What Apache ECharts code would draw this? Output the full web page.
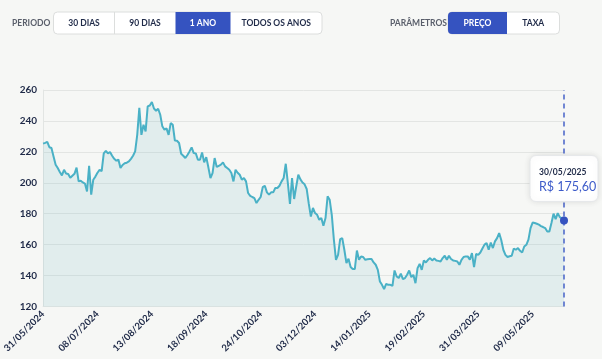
<!DOCTYPE html>
<html>
<head>
<meta charset="utf-8">
<script src="https://cdn.jsdelivr.net/npm/echarts@6/dist/echarts.min.js"></script>
<style>
html,body{margin:0;padding:0;background:#f6f7f5;}
#c{width:602px;height:359px;}
</style>
</head>
<body>
<div id="c"></div>
<script>
// Trading calendar (B3 holidays removed)
const startDate = '2024-05-31';
const endDate = '2025-05-30';
const holidays = ['2024-11-15','2024-11-20','2024-12-24','2024-12-25','2024-12-31','2025-01-01','2025-03-03','2025-03-04','2025-04-18','2025-04-21','2025-05-01'];

// Price series (R$), one value per trading day
const prices = [
225.3,225.8,226.4,223.0,222.5,217.0,211.7,209.5,207.0,204.8,
208.4,206.0,205.7,203.2,204.5,205.8,209.8,200.9,201.3,200.2,
199.5,194.4,211.0,192.3,202.0,204.0,206.5,208.4,207.5,219.0,
220.7,219.0,219.9,217.5,215.5,214.3,215.0,209.6,211.5,212.6,
213.0,213.8,215.5,217.5,220.3,231.0,248.4,231.0,237.5,233.2,
249.4,250.0,252.2,248.0,246.6,247.9,244.0,236.5,234.3,235.2,
231.0,238.6,237.5,227.3,227.2,225.7,218.8,217.5,216.0,218.0,
220.3,222.9,219.2,219.0,214.9,214.9,219.6,213.2,216.6,210.0,
203.1,206.3,216.0,210.2,211.0,211.7,213.2,210.6,209.5,208.4,
206.3,200.9,208.4,206.5,205.2,202.0,203.1,200.9,193.4,191.6,
190.8,190.1,186.9,189.0,190.8,197.2,198.1,193.8,192.3,193.8,
193.8,196.6,196.6,198.1,200.9,203.1,212.3,199.8,186.4,203.1,
189.5,197.6,205.2,202.2,200.2,199.0,196.0,186.5,178.2,183.7,
180.4,179.3,176.1,177.2,172.2,177.2,191.2,189.0,179.3,163.2,
150.2,153.4,163.6,164.2,156.7,148.1,150.9,145.5,144.2,144.2,
156.2,150.2,152.3,152.0,150.2,150.5,150.7,150.7,148.5,147.0,
143.7,136.2,134.0,131.3,134.7,134.0,134.0,133.4,143.3,139.4,
138.4,141.2,137.7,138.4,140.5,143.3,139.0,140.5,135.1,144.8,
147.6,143.7,149.8,148.5,150.2,151.3,149.8,151.0,149.8,149.5,
149.1,151.3,152.8,150.2,152.8,150.7,149.8,149.5,149.1,147.0,
150.2,152.0,152.4,152.4,150.2,154.5,145.5,154.0,153.4,154.9,
157.5,160.0,161.0,156.7,161.4,157.8,162.1,164.2,167.5,163.0,
156.7,153.4,152.0,152.5,152.8,157.5,156.7,157.8,156.0,154.9,
158.8,159.9,163.2,170.7,174.3,174.0,173.5,172.9,172.0,171.4,
170.7,168.5,168.5,174.0,180.0,176.5,180.4,177.8,177.0,175.6
];

const periodButtons = ['30 DIAS','90 DIAS','1 ANO','TODOS OS ANOS'];
const paramButtons = ['PREÇO','TAXA'];

function buildDates(){
  const out = [];
  const d = new Date(startDate + 'T00:00:00Z');
  const end = new Date(endDate + 'T00:00:00Z');
  while (d <= end){
    const wd = d.getUTCDay();
    const iso = d.toISOString().slice(0,10);
    if (wd !== 0 && wd !== 6 && holidays.indexOf(iso) < 0){
      out.push(iso.slice(8,10) + '/' + iso.slice(5,7) + '/' + iso.slice(0,4));
    }
    d.setUTCDate(d.getUTCDate() + 1);
  }
  return out;
}
const dates = buildDates();

const FONT = 'Lato';
const NAVY = '#1f2a48';
const BLUE = '#3553c0';

const chart = echarts.init(document.getElementById('c'), null, {renderer:'canvas'});

function btnGroup(x0, y0, widths, labels, activeIdx){
  const els = [];
  const total = widths.reduce((a,b)=>a+b,0);
  els.push({type:'rect', shape:{x:x0, y:y0, width:total, height:22, r:4},
    style:{fill:'#ffffff', stroke:'#dcdedd', lineWidth:1}});
  let x = x0;
  widths.forEach((w,i)=>{
    if (i === activeIdx){
      const r = [0,0,0,0];
      if (i===0){r[0]=4;r[3]=4;}
      if (i===widths.length-1){r[1]=4;r[2]=4;}
      els.push({type:'rect', shape:{x:x, y:y0, width:w, height:22, r:r}, style:{fill:BLUE}});
    } else if (i>0 && i-1 !== activeIdx){
      els.push({type:'line', shape:{x1:x, y1:y0, x2:x, y2:y0+22}, style:{stroke:'#dcdedd', lineWidth:1}});
    }
    els.push({type:'text', x:x+w/2, y:y0+11, style:{text:labels[i], fill: i===activeIdx?'#ffffff':NAVY,
      font:'bold 8.5px ' + FONT, align:'center', verticalAlign:'middle'}});
    x += w;
  });
  return els;
}

const n = prices.length;
chart.setOption({
  backgroundColor:'#f6f7f5',
  animation:false,
  grid:{left:42, right:38, top:90, bottom:52.5},
  xAxis:{
    type:'category', data:dates, boundaryGap:false,
    axisLine:{show:true, lineStyle:{color:'#e2e5e3'}},
    axisTick:{show:false},
    axisLabel:{interval:25, rotate:45, color:NAVY, fontSize:9.5, fontWeight:'bold', fontFamily:FONT, margin:6},
    splitLine:{show:false}
  },
  yAxis:{
    type:'value', min:120, max:260, interval:20,
    axisLine:{show:true, lineStyle:{color:'#e2e5e3'}},
    axisTick:{show:false},
    axisLabel:{color:NAVY, fontSize:10, fontWeight:'bold', fontFamily:FONT, margin:6},
    splitLine:{lineStyle:{color:'#e3e5e3'}}
  },
  series:[{
    type:'line', data:prices, showSymbol:false, smooth:false,
    lineStyle:{color:'#4ab1c6', width:2},
    areaStyle:{color:'rgba(110,185,195,0.22)'},
    markLine:{
      silent:true, symbol:'none', label:{show:false},
      lineStyle:{color:'#4763c8', type:[5,4], width:1.5},
      data:[{xAxis:n-1}]
    },
    markPoint:{
      silent:true, symbol:'circle', symbolSize:8, label:{show:false},
      itemStyle:{color:BLUE},
      data:[{coord:[n-1, prices[n-1]]}]
    }
  }]
});

const p = chart.convertToPixel({gridIndex:0}, [n-1, prices[n-1]]);
const boxW = 68, boxH = 46;
const bx = p[0] - boxW/2, by = p[1] - 19 - boxH;
const priceText = 'R$ ' + prices[n-1].toFixed(2).replace('.', ',');

chart.setOption({
  graphic:[].concat(
    [{type:'text', x:12, y:23, style:{text:'PERIODO', fill:'#5a5f6b', font:'bold 8.5px ' + FONT, verticalAlign:'middle'}}],
    btnGroup(53.5, 12, [61,61,55,91.5], periodButtons, 2),
    [{type:'text', x:390, y:23, style:{text:'PARÂMETROS', fill:'#5a5f6b', font:'bold 8.5px ' + FONT, verticalAlign:'middle'}}],
    btnGroup(448, 12, [59,52.5], paramButtons, 0),
    [{type:'rect', shape:{x:bx, y:by, width:boxW, height:boxH, r:6},
      style:{fill:'#ffffff', stroke:'#e6e8ea', lineWidth:1, shadowBlur:6, shadowColor:'rgba(0,0,0,0.10)'}, z:100},
     {type:'text', x:bx+9, y:by+17, z:101, style:{text:dates[n-1], fill:NAVY, font:'bold 8.5px ' + FONT, verticalAlign:'middle'}},
     {type:'text', x:bx+9, y:by+31, z:101, style:{text:priceText, fill:'#3d5bc9', font:'12.5px ' + FONT, verticalAlign:'middle'}}]
  )
});
</script>
</body>
</html>
